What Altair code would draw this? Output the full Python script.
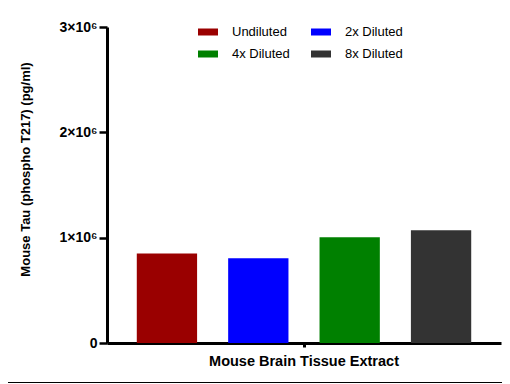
import altair as alt
import pandas as pd

series = ["Undiluted", "2x Diluted", "4x Diluted", "8x Diluted"]
values = [850000, 805000, 1005000, 1070000]
colors = ["#9a0000", "#0000ff", "#008000", "#333333"]
group = "Mouse Brain Tissue Extract"
y_ticks = [0, 1000000, 2000000, 3000000]

df = pd.DataFrame({"group": [group] * 4, "series": series, "value": values})

FONT = "Liberation Sans"

bars = alt.Chart(df).mark_bar(opacity=1).encode(
    x=alt.X("group:N", title=None,
            scale=alt.Scale(paddingInner=0, paddingOuter=0),
            axis=alt.Axis(labelAngle=0, labelFont=FONT, labelFontSize=14.5, labelFontWeight="bold",
                          labelColor="#000", labelLimit=400, tickSize=4, tickWidth=3, tickColor="#000",
                          domainWidth=3, domainColor="#000", labelPadding=7)),
    xOffset=alt.XOffset("series:N", sort=series,
                        scale=alt.Scale(paddingInner=0.34, paddingOuter=0.326)),
    y=alt.Y("value:Q", title="Mouse Tau (phospho T217) (pg/ml)",
            scale=alt.Scale(domain=[0, 3000000], nice=False),
            axis=alt.Axis(values=y_ticks, grid=False,
                          labelExpr="datum.value == 0 ? '0' : (datum.value/1000000) + '×10⁶'",
                          labelFont=FONT, labelFontSize=14, labelFontWeight="bold", labelColor="#000",
                          labelPadding=2, tickSize=8, tickWidth=2.5, tickColor="#000",
                          domainWidth=3, domainColor="#000",
                          titleFont=FONT, titleFontSize=13, titleFontWeight="bold", titleColor="#000",
                          titleX=-82, titleY=142, titleAngle=-90, titleBaseline="middle", titleAlign="center")),
    color=alt.Color("series:N", sort=series,
                    scale=alt.Scale(domain=series, range=colors),
                    legend=alt.Legend(orient="none", legendX=91, legendY=-5, columns=2, title=None,
                                      direction="horizontal",
                                      symbolType="M-1,-0.35L1,-0.35L1,0.35L-1,0.35Z", symbolSize=400,
                                      symbolStrokeWidth=0, symbolOpacity=1,
                                      labelFont=FONT, labelFontSize=13, labelColor="#000",
                                      labelOffset=14, columnPadding=21, rowPadding=5, padding=0)),
)

border = alt.Chart(pd.DataFrame({"a": [0]})).mark_rule(color="#000", strokeWidth=1).encode(
    x=alt.value(-99), x2=alt.value(403), y=alt.value(355.5)
)

chart = alt.layer(bars, border).properties(
    width=394, height=316,
    autosize=alt.AutoSizeParams(type="none"),
    padding={"left": 99, "top": 19, "right": 1, "bottom": 41},
).configure_view(stroke=None)

chart.save("out.html", embed_options={"renderer": "svg", "actions": False})
